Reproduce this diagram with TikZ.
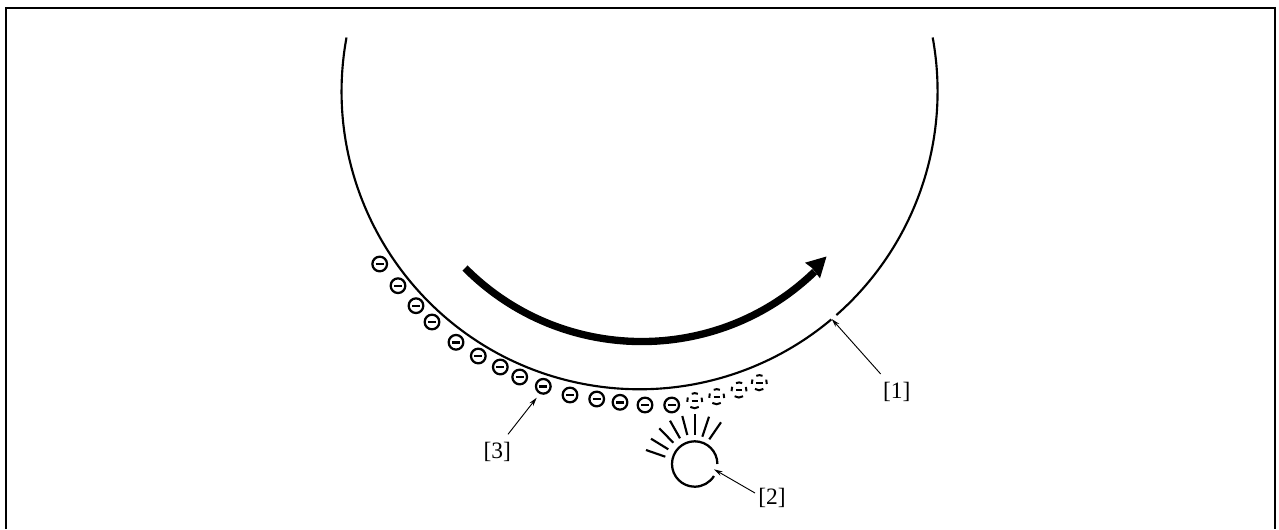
\documentclass[tikz,border=0pt]{standalone}
\usepackage{fontspec}
\setmainfont{Liberation Serif}
\usetikzlibrary{arrows.meta}
\tikzset{
  x=0.75pt,y=-0.75pt,
  frameline/.style={line width=1.5pt},
  drum/.style={line width=1.6pt},
  chg/.style={circle,draw,line width=1.7pt,minimum size=11pt,inner sep=0pt,fill=white},
  dchg/.style={circle,minimum size=11pt,inner sep=0pt},
  dash arc/.style={line width=1.5pt},
  minus/.style={line width=1.8pt},
  ray/.style={line width=1.6pt},
  lamp/.style={line width=1.7pt},
  leader/.style={line width=0.7pt,-{Stealth[length=6.5pt,width=3.6pt]}},
  lab/.style={font=\fontsize{17.6pt}{21pt}\selectfont,inner sep=0pt},
}
\newcommand{\chgat}[3]{\node[chg] (#1) at (#2,#3) {}; \draw[minus] ([xshift=-3pt]#1.center) -- ([xshift=3pt]#1.center);}
\newcommand{\dchgat}[3]{\node[dchg] (#1) at (#2,#3) {};
  \draw[minus] ([xshift=-2.4pt]#1.center) -- ([xshift=2.4pt]#1.center);
  \draw[dash arc] (#1.65) arc[start angle=65,end angle=115,radius=5.5pt];
  \draw[dash arc] (#1.235) arc[start angle=235,end angle=305,radius=5.5pt];
  \draw[dash arc] (#1.155) arc[start angle=155,end angle=190,radius=5.5pt];
  \draw[dash arc] (#1.-10) arc[start angle=-10,end angle=25,radius=5.5pt];}
\begin{document}
\begin{tikzpicture}
\useasboundingbox (0,0) rectangle (1279,529);
\draw[frameline] (6,529) -- (6,8) -- (1275,8) -- (1275,529);
% drum
\coordinate (cc) at (639.5,91.5);
\draw[drum] (346.5,37.5) arc[start angle=190.4,end angle=-10.4,radius=298];
% gap in the drum at the leader tip
\draw[white,line width=3pt] (831.5,319.5) -- (836.5,315.5);
% rotation arrow
\draw[line width=5.5pt] (465,268) arc[start angle=135.2,end angle=46,radius=249];
\fill (826.5,256.5) -- (805,262.7) -- (812,268) -- (820,278.3) -- cycle;
% charges
\chgat{a1}{379.7}{264}
\chgat{a2}{398}{285.7}
\chgat{a3}{416}{305.7}
\chgat{a4}{432}{322}
\chgat{a5}{456}{342.3}
\chgat{a6}{478.3}{356}
\chgat{a7}{500.3}{367}
\chgat{a8}{519.7}{377}
\chgat{a9}{543.3}{386.3}
\chgat{a10}{570}{395}
\chgat{a11}{596.7}{399}
\chgat{a12}{620}{402.3}
\chgat{a13}{645}{405}
\chgat{a14}{671.7}{405}
\dchgat{b1}{694.7}{400.7}
\dchgat{b2}{716.7}{396.7}
\dchgat{b3}{739}{390}
\dchgat{b4}{759.3}{382.7}
% lamp
\coordinate (lampc) at (694.7,464);
\draw[lamp] (717.4,464) arc[start angle=0,end angle=-328,radius=22.7];
\draw[ray] (646,450) -- (665.3,456.7);
\draw[ray] (651,438.7) -- (668.3,449.3);
\draw[ray] (659.3,428.3) -- (673.3,442.7);
\draw[ray] (670,420.7) -- (680,438.3);
\draw[ray] (682.3,416) -- (687.3,435);
\draw[ray] (694.7,414.3) -- (694.7,435);
\draw[ray] (709,416.7) -- (702.3,436.7);
\draw[ray] (721,422.3) -- (709.3,439.3);
% labels and leaders
\node[lab] (l1) at (896.7,391.5) {[1]};
\node[lab] (l2) at (772,498) {[2]};
\node[lab] (l3) at (497.3,451.5) {[3]};
\coordinate (t1) at (831.7,319);
\coordinate (t2) at (714,469.3);
\coordinate (t3) at (536.7,397.7);
\draw[leader] (880.7,374) -- (t1);
\draw[leader] (755,493) -- (t2);
\draw[leader] (508,434.3) -- (t3);
\end{tikzpicture}
\end{document}
